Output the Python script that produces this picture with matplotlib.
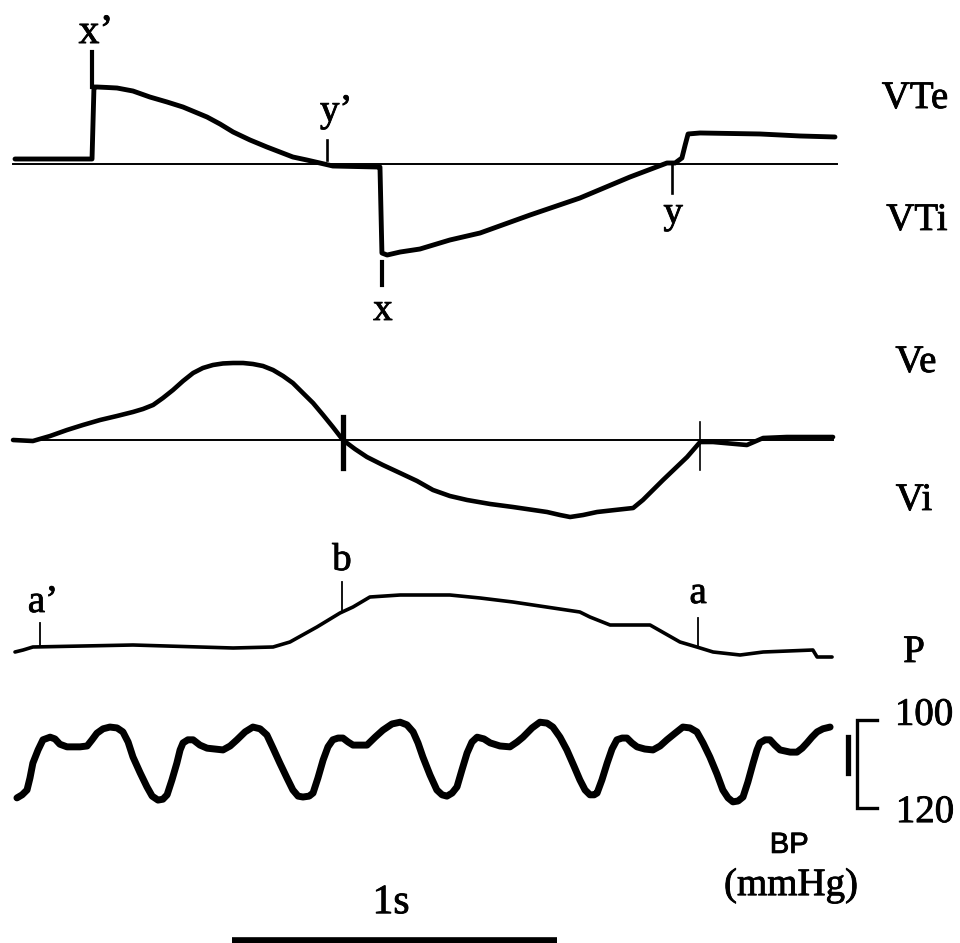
import matplotlib
matplotlib.use("Agg")
import matplotlib.pyplot as plt
import matplotlib.patheffects as pe

# ---- time base (s) ----------------------------------------------------------
# tidal volume: expiratory (VTe, up) and inspiratory (VTi, down)
vt_t = [0.000, 0.225, 0.237, 0.243, 0.252, 0.283, 0.314, 0.363, 0.415, 0.468,
        0.517, 0.554, 0.591, 0.631, 0.671, 0.723, 0.775, 0.815, 0.855, 0.898,
        0.938, 0.978, 1.117, 1.123, 1.129, 1.145, 1.185, 1.246, 1.338, 1.431,
        1.585, 1.738, 1.892, 2.006, 2.031, 2.052, 2.062, 2.071, 2.108, 2.292,
        2.415, 2.523]
vt_v = [0.065, 0.065, 0.065, 1.000, 1.000, 0.994, 0.987, 0.948, 0.870, 0.805,
        0.740, 0.675, 0.610, 0.519, 0.416, 0.312, 0.221, 0.156, 0.091, 0.052,
        0.013, -0.026, -0.039, -0.039, -1.156, -1.182, -1.143, -1.104, -0.987, -0.896,
        -0.662, -0.442, -0.169, 0.013, 0.013, 0.078, 0.247, 0.390, 0.403, 0.390,
        0.364, 0.351]

# flow: expiratory (Ve, up) and inspiratory (Vi, down)
fl_t = [-0.006, 0.055, 0.108, 0.160, 0.209, 0.262, 0.314, 0.363, 0.394, 0.425,
        0.455, 0.486, 0.517, 0.548, 0.578, 0.609, 0.640, 0.671, 0.702, 0.732,
        0.763, 0.794, 0.825, 0.855, 0.886, 0.917, 0.948, 0.978, 1.009, 1.046,
        1.083, 1.132, 1.185, 1.237, 1.286, 1.338, 1.391, 1.462, 1.532, 1.637,
        1.677, 1.708, 1.748, 1.791, 1.846, 1.902, 1.932, 1.994, 2.068, 2.108,
        2.148, 2.252, 2.302, 2.375, 2.517]
fl_v = [0.000, -0.013, 0.052, 0.130, 0.195, 0.260, 0.312, 0.364, 0.403, 0.455,
        0.545, 0.649, 0.766, 0.870, 0.935, 0.974, 0.994, 1.000, 1.000, 0.987,
        0.961, 0.909, 0.831, 0.740, 0.610, 0.481, 0.325, 0.169, 0.000, -0.117,
        -0.221, -0.325, -0.429, -0.532, -0.649, -0.727, -0.779, -0.831, -0.870, -0.935,
        -0.974, -1.000, -0.974, -0.935, -0.909, -0.883, -0.779, -0.519, -0.221, -0.026,
        -0.026, -0.065, 0.026, 0.039, 0.039]

# airway pressure
p_t = [0.000, 0.025, 0.055, 0.363, 0.671, 0.794, 0.846, 0.929, 1.000, 1.040,
       1.092, 1.185, 1.338, 1.431, 1.532, 1.738, 1.769, 1.831, 1.954, 2.046,
       2.098, 2.148, 2.231, 2.302, 2.455, 2.468, 2.514]
p_v = [0.3, 0.5, 0.8, 1.0, 0.7, 0.8, 1.3, 2.8, 4.2, 4.8,
       5.8, 6.0, 6.0, 5.7, 5.3, 4.3, 3.8, 3.0, 3.0, 1.3,
       0.8, 0.3, 0.0, 0.3, 0.5, -0.2, -0.2]

# arterial blood pressure (mmHg)
bp_t = [0.006, 0.022, 0.037, 0.046, 0.055, 0.071, 0.086, 0.108, 0.123, 0.138,
        0.160, 0.200, 0.222, 0.237, 0.252, 0.271, 0.292, 0.314, 0.332, 0.348,
        0.363, 0.385, 0.406, 0.422, 0.440, 0.455, 0.468, 0.483, 0.498, 0.508,
        0.517, 0.532, 0.548, 0.569, 0.591, 0.640, 0.662, 0.683, 0.708, 0.732,
        0.754, 0.775, 0.794, 0.815, 0.837, 0.855, 0.871, 0.886, 0.905, 0.917,
        0.932, 0.948, 0.963, 0.978, 0.994, 1.009, 1.025, 1.040, 1.083, 1.108,
        1.132, 1.160, 1.185, 1.206, 1.225, 1.240, 1.255, 1.277, 1.298, 1.314,
        1.329, 1.345, 1.360, 1.375, 1.391, 1.406, 1.422, 1.443, 1.462, 1.492,
        1.523, 1.545, 1.563, 1.591, 1.615, 1.637, 1.655, 1.677, 1.698, 1.720,
        1.738, 1.754, 1.769, 1.782, 1.791, 1.806, 1.822, 1.837, 1.852, 1.868,
        1.883, 1.898, 1.914, 1.938, 1.963, 1.985, 2.006, 2.031, 2.055, 2.077,
        2.098, 2.117, 2.138, 2.160, 2.178, 2.194, 2.209, 2.225, 2.240, 2.255,
        2.271, 2.283, 2.292, 2.308, 2.323, 2.338, 2.354, 2.385, 2.406, 2.422,
        2.437, 2.452, 2.468, 2.486, 2.508]
bp_v = [117.7, 117.0, 115.9, 113.2, 109.8, 106.8, 104.5, 103.9, 104.3, 105.5,
        106.1, 106.1, 105.9, 104.5, 103.0, 102.0, 101.6, 101.8, 102.7, 105.0,
        108.4, 112.0, 115.2, 117.3, 118.2, 118.0, 117.0, 113.6, 109.8, 106.8,
        105.2, 104.5, 104.5, 105.7, 106.4, 106.8, 105.9, 104.5, 102.7, 101.6,
        102.0, 103.4, 106.4, 109.8, 113.2, 115.9, 117.3, 117.5, 117.3, 116.6,
        113.2, 109.1, 106.1, 104.5, 104.1, 104.1, 105.0, 105.7, 105.7, 103.9,
        102.3, 100.9, 100.5, 101.1, 102.7, 105.2, 108.4, 112.5, 115.9, 117.0,
        117.3, 116.6, 115.2, 111.4, 107.5, 105.0, 103.9, 104.3, 105.2, 105.9,
        106.1, 105.0, 103.9, 101.8, 100.5, 100.7, 101.6, 103.9, 106.8, 110.5,
        113.6, 115.9, 117.0, 117.0, 116.6, 113.6, 109.8, 106.6, 104.5, 104.1,
        104.1, 105.2, 106.1, 106.6, 106.8, 105.9, 104.5, 103.0, 101.6, 101.8,
        102.7, 105.2, 108.4, 112.3, 115.9, 117.7, 118.6, 118.4, 117.5, 114.1,
        109.8, 106.8, 105.2, 104.5, 104.5, 105.7, 106.8, 107.3, 107.3, 106.4,
        105.2, 103.9, 102.7, 102.0, 101.6]

# event markers: (time, low, high)
vt_marks = {"x'": (0.237, 1.000, 1.455), "y'": (0.960, 0.052, 0.312),
            "x": (1.129, -1.571, -1.273), "y": (2.022, -0.377, -0.013)}
fl_marks = [(1.009, -0.364, 0.300), (2.108, -0.390, 0.234)]
p_marks = {"a'": (0.077, 1.0, 3.2), "b": (1.006, 4.5, 7.3), "a": (2.102, 0.8, 3.7)}
bp_mark = (2.563, 103.9, 112.0)
bp_scale = (100, 120)
scale_bar_s = 1.0
scale_start = 0.668

# ---- figure -----------------------------------------------------------------
fig = plt.figure(figsize=(9.6, 9.43), dpi=100)
XLIM = (-0.04615, 2.90769)
serif = ["Liberation Serif", "DejaVu Serif"]
sans = ["Liberation Sans", "DejaVu Sans"]
K = "black"
heavy = [pe.withStroke(linewidth=0.6, foreground=K)]


def make_axes(ylim, name):
    ax = fig.add_axes([0, 0, 1, 1], label=name)
    ax.set_xlim(*XLIM)
    ax.set_ylim(*ylim)
    ax.axis("off")
    ax.patch.set_alpha(0)
    return ax


def label(ax, t, v, s, size=28, family=serif):
    ax.text(t, v, s, ha="center", va="baseline", fontsize=size,
            family=family, color=K, path_effects=heavy)


def trace(ax, t, v, lw):
    ax.plot(t, v, color=K, lw=lw, solid_joinstyle="round",
            solid_capstyle="round")


# tidal volume
ax1 = make_axes((-10.117, 2.130), "vt")
ax1.plot([-0.006, 2.529], [0, 0], color=K, lw=1.4)
trace(ax1, vt_t, vt_v, 3.5)
for name, (t, lo, hi) in vt_marks.items():
    ax1.plot([t, t], [lo, hi], color=K, lw=3.0 if name in ("x'", "x") else 1.9)
label(ax1, 0.249, 1.571, "x\u2019", size=30)
label(ax1, 0.988, 0.558, "y\u2019")
label(ax1, 1.132, -2.026, "x")
label(ax1, 2.025, -0.766, "y")
label(ax1, 2.769, 0.727, "VTe")
label(ax1, 2.775, -0.857, "VTi")

# flow
ax2 = make_axes((-6.532, 5.714), "flow")
ax2.plot([-0.006, 2.517], [0, 0], color=K, lw=1.4)
trace(ax2, fl_t, fl_v, 3.3)
ax2.plot([fl_marks[0][0]] * 2, fl_marks[0][1:], color=K, lw=3.8)
ax2.plot([fl_marks[1][0]] * 2, fl_marks[1][1:], color=K, lw=1.2)
label(ax2, 2.772, 0.883, "Ve")
label(ax2, 2.766, -0.909, "Vi")

# pressure
ax3 = make_axes((-28.8, 65.5), "p")
trace(ax3, p_t, p_v, 2.6)
for name, (t, lo, hi) in p_marks.items():
    ax3.plot([t, t], [lo, hi], color=K, lw=1.3)
label(ax3, 0.086, 4.3, "a\u2019")
label(ax3, 1.006, 8.5, "b")
label(ax3, 2.102, 5.2, "a")
label(ax3, 2.766, -0.7, "P")

# blood pressure (inverted scale)
ax4 = make_axes((150.68, -63.64), "bp")
trace(ax4, bp_t, bp_v, 5.0)
ax4.plot([bp_mark[0]] * 2, bp_mark[1:], color=K, lw=3.8)
ax4.plot([2.652, 2.591, 2.591, 2.652],
         [bp_scale[0], bp_scale[0], bp_scale[1], bp_scale[1]],
         color=K, lw=2.4, solid_joinstyle="miter")
label(ax4, 2.797, 101.1, str(bp_scale[0]))
label(ax4, 2.800, 123.2, str(bp_scale[1]))
label(ax4, 2.382, 130.2, "BP", size=21, family=sans)
label(ax4, 2.388, 139.8, "(mmHg)")
label(ax4, 1.157, 143.9, "1s", size=30)
ax4.plot([scale_start, scale_start + scale_bar_s], [150.2, 150.2],
         color=K, lw=5.5, solid_capstyle="butt")

fig.savefig("out.png", dpi=100, facecolor="white")
